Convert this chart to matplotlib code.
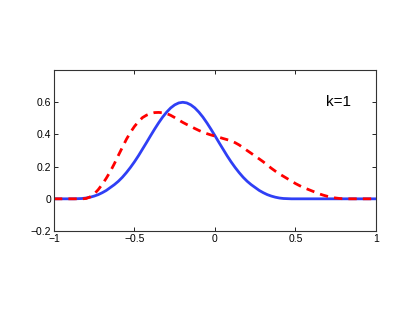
import numpy as np
import matplotlib.pyplot as plt

plt.rcParams['font.family'] = ['Liberation Sans', 'DejaVu Sans']

# values, x from -1 to 1 in steps of 0.025
x = np.linspace(-1, 1, 81)
blue = [0, 0, 0, 0,
        0, 0, 0.001, 0.002, 0.005, 0.010, 0.017, 0.026, 0.038, 0.052,
        0.070, 0.088, 0.109, 0.134, 0.163, 0.195, 0.230, 0.268, 0.309,
        0.350, 0.392, 0.433, 0.472, 0.508, 0.539, 0.565, 0.584, 0.596,
        0.600,
        0.596, 0.584, 0.565, 0.539, 0.508, 0.472, 0.433, 0.392, 0.350,
        0.309, 0.268, 0.230, 0.195, 0.163, 0.134, 0.109, 0.088, 0.070,
        0.052, 0.038, 0.026, 0.017, 0.010, 0.005, 0.002, 0.001, 0, 0,
        0, 0, 0, 0, 0, 0, 0, 0, 0, 0, 0, 0, 0, 0, 0, 0, 0, 0, 0, 0]
red = [0, 0, 0, 0, 0, 0, 0, 0,
       0.002, 0.012, 0.03, 0.057, 0.09, 0.128, 0.17, 0.218, 0.27, 0.32,
       0.37, 0.413, 0.45, 0.48, 0.505, 0.52, 0.53, 0.536, 0.537, 0.535,
       0.53, 0.519, 0.505, 0.49, 0.475, 0.462, 0.45, 0.437, 0.425, 0.414,
       0.405, 0.397, 0.39, 0.383, 0.375, 0.368, 0.36, 0.349, 0.335, 0.318,
       0.30, 0.283, 0.265, 0.248, 0.23, 0.21, 0.19, 0.172, 0.155, 0.14,
       0.125, 0.11, 0.095, 0.082, 0.07, 0.06, 0.05, 0.04, 0.03, 0.022,
       0.015, 0.009, 0.005, 0.002, 0,
       0, 0, 0, 0, 0, 0, 0, 0]
xticks = [-1, -0.5, 0, 0.5, 1]
yticks = [-0.2, 0, 0.2, 0.4, 0.6]

fig = plt.figure(figsize=(4.15, 3.13), dpi=100)
ax = fig.add_axes([0.130, 0.262, 0.776, 0.514])
ax.plot(x, blue, color='#2f3ff5', lw=2)
ax.plot(x, red, color='red', lw=2, ls=(0, (3, 2.2)))
ax.set_xlim(-1, 1)
ax.set_ylim(-0.2, 0.8)
ax.set_xticks(xticks)
ax.set_xticklabels(['\u22121', '\u22120.5', '0', '0.5', '1'])
ax.set_yticks(yticks)
ax.set_yticklabels(['\u22120.2', '0', '0.2', '0.4', '0.6'])
ax.tick_params(direction='in', top=True, right=True, labelsize=7.5,
               length=3, width=0.6, pad=2)
for s in ax.spines.values():
    s.set_linewidth(0.8)
    s.set_color('#333333')
ax.text(0.77, 0.6, 'k=1', fontsize=11, ha='center', va='center')

fig.savefig('out.png', dpi=100)
